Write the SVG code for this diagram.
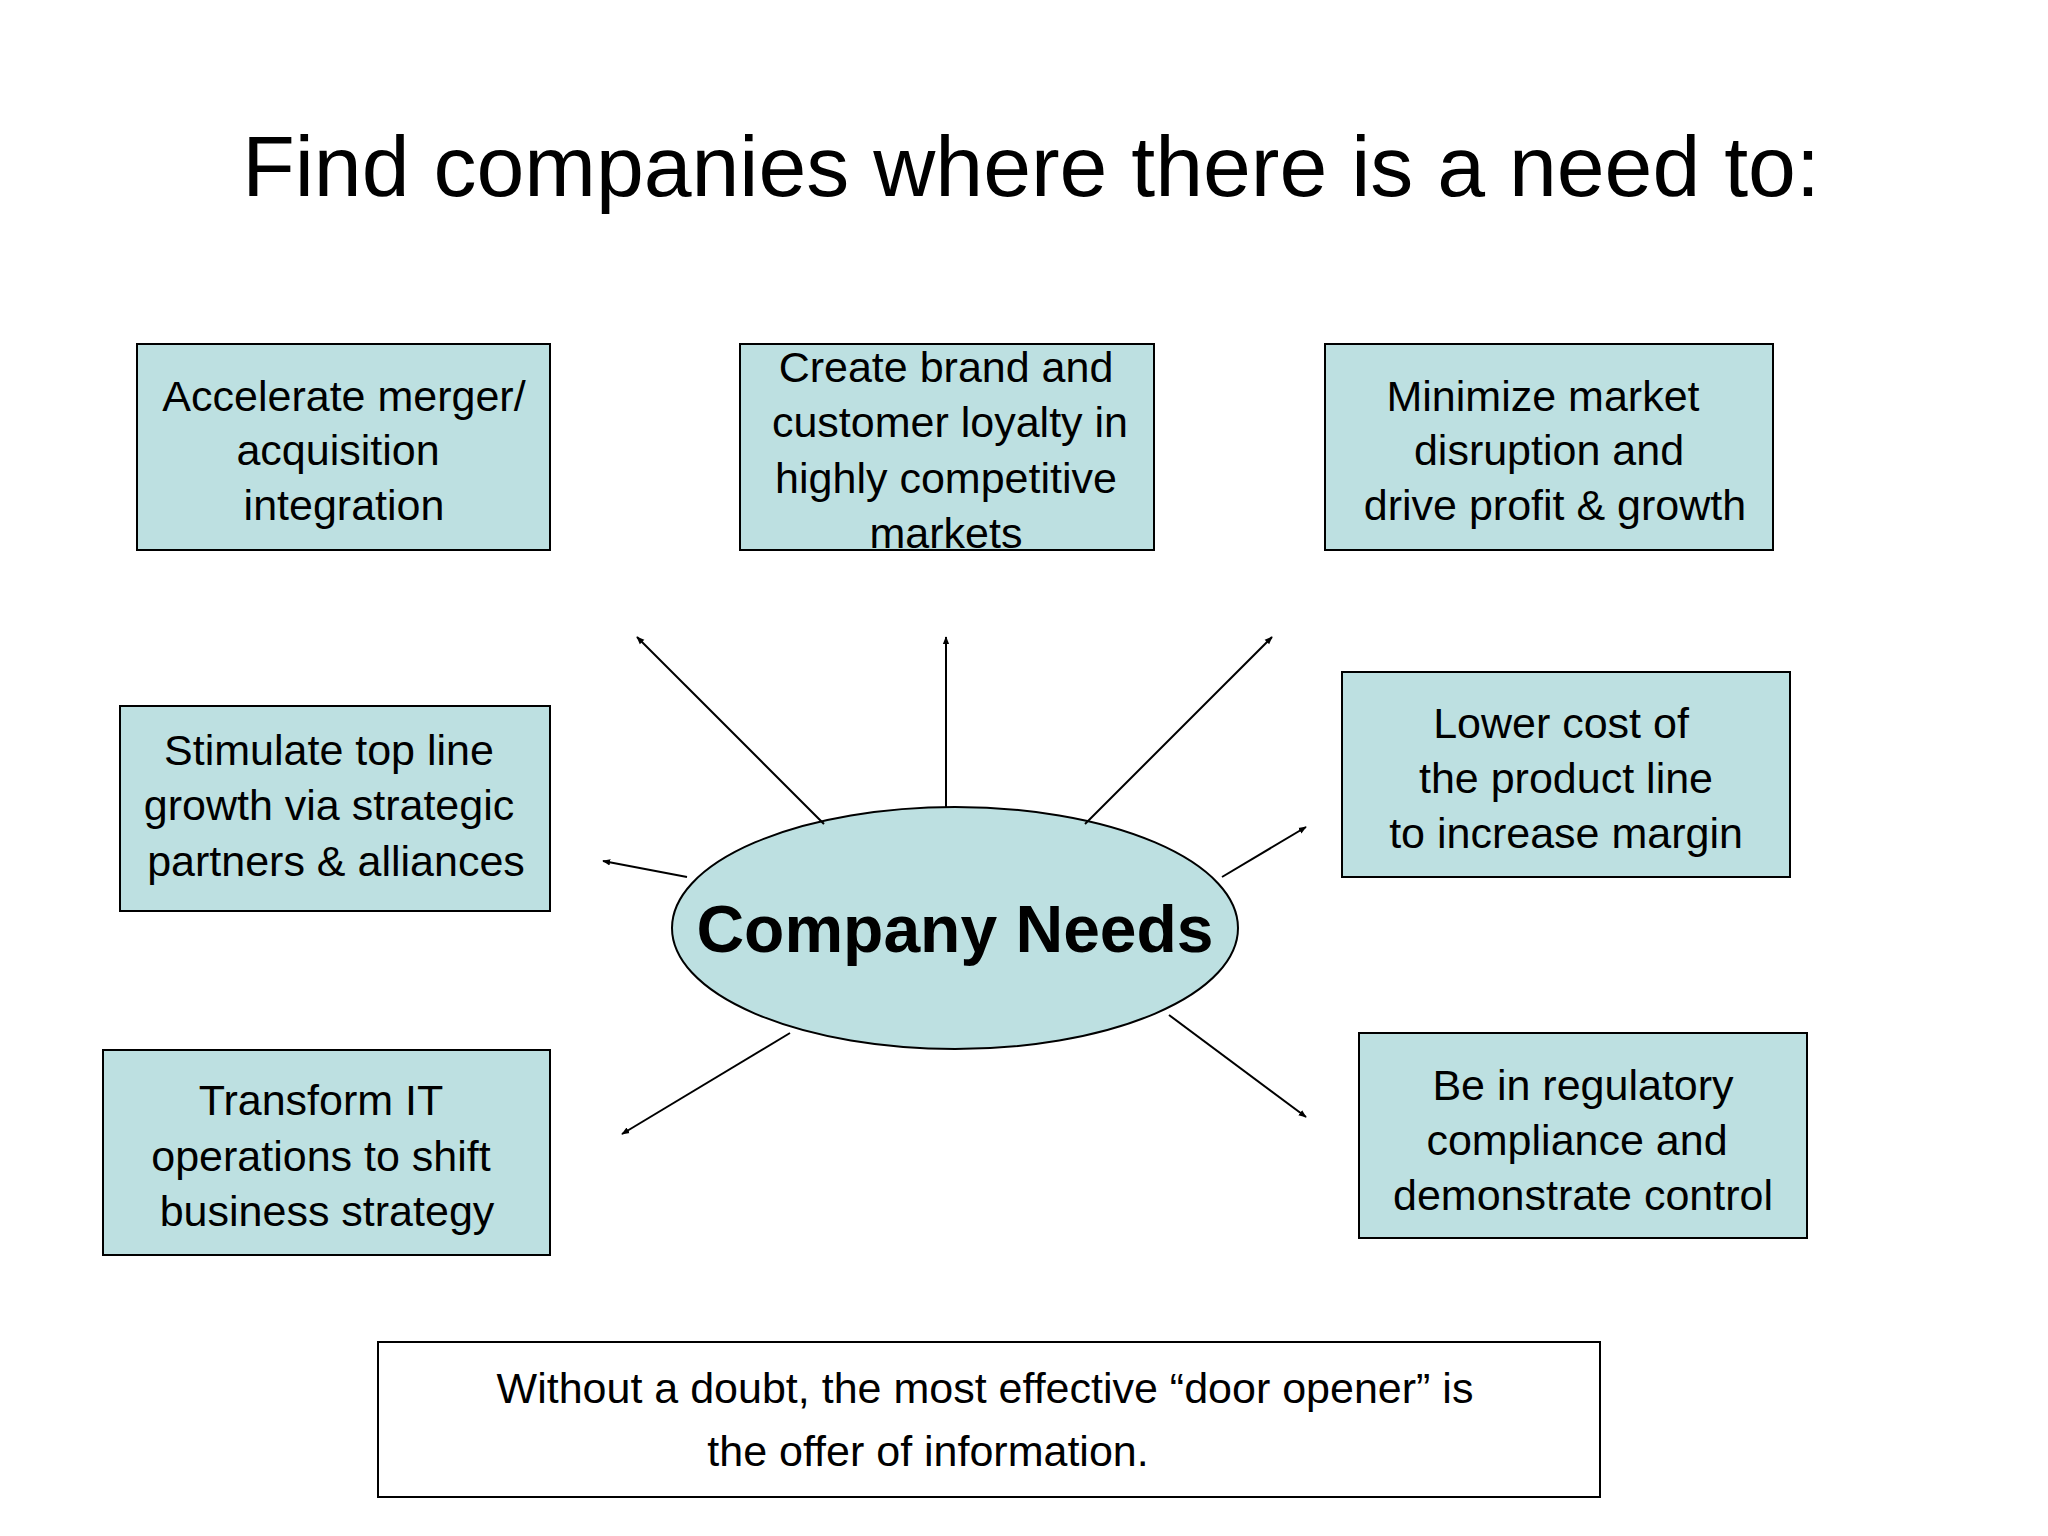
<svg xmlns="http://www.w3.org/2000/svg" width="2048" height="1536" viewBox="0 0 2048 1536">
<defs>
<style>
text{font-family:"Liberation Sans",Arial,sans-serif;fill:#000;text-anchor:middle}
.b{fill:#bde0e1;stroke:#000;stroke-width:2}
.t{font-size:43px}
.c line{stroke:#000;stroke-width:2;marker-end:url(#a)}
</style>
<marker id="a" viewBox="0 0 10 10" refX="9" refY="5" markerWidth="8" markerHeight="8" orient="auto" markerUnits="userSpaceOnUse"><path d="M0,1L10,5L0,9z" fill="#000"/></marker>
</defs>
<rect width="2048" height="1536" fill="#fff"/>
<text x="1031" y="196" font-size="86">Find companies where there is a need to:</text>
<g id="n1"><rect class="b" x="137" y="344" width="413" height="206"/><text class="t" x="344"><tspan x="344" y="411">Accelerate merger/</tspan><tspan x="338" y="465">acquisition</tspan><tspan x="344" y="520">integration</tspan></text></g>
<g id="n2"><rect class="b" x="740" y="344" width="414" height="206"/><text class="t"><tspan x="946" y="382">Create brand and</tspan><tspan x="950" y="437">customer loyalty in</tspan><tspan x="946" y="493">highly competitive</tspan><tspan x="946" y="548">markets</tspan></text></g>
<g id="n3"><rect class="b" x="1325" y="344" width="448" height="206"/><text class="t"><tspan x="1543" y="411">Minimize market</tspan><tspan x="1549" y="465">disruption and</tspan><tspan x="1555" y="520">drive profit &amp; growth</tspan></text></g>
<g id="n4"><rect class="b" x="120" y="706" width="430" height="205"/><text class="t"><tspan x="329" y="765">Stimulate top line</tspan><tspan x="329" y="820">growth via strategic</tspan><tspan x="336" y="876">partners &amp; alliances</tspan></text></g>
<g id="n5"><rect class="b" x="1342" y="672" width="448" height="205"/><text class="t"><tspan x="1561" y="738">Lower cost of</tspan><tspan x="1566" y="793">the product line</tspan><tspan x="1566" y="848">to increase margin</tspan></text></g>
<g id="n6"><rect class="b" x="103" y="1050" width="447" height="205"/><text class="t"><tspan x="321" y="1115">Transform IT</tspan><tspan x="321" y="1171">operations to shift</tspan><tspan x="327" y="1226">business strategy</tspan></text></g>
<g id="n7"><rect class="b" x="1359" y="1033" width="448" height="205"/><text class="t"><tspan x="1583" y="1100">Be in regulatory</tspan><tspan x="1577" y="1155">compliance and</tspan><tspan x="1583" y="1210">demonstrate control</tspan></text></g>
<g id="center"><ellipse class="b" cx="955" cy="928" rx="283" ry="121"/><text x="955" y="952" font-size="66" font-weight="bold">Company Needs</text></g>
<g id="note"><rect x="378" y="1342" width="1222" height="155" fill="#fff" stroke="#000" stroke-width="2"/><text class="t"><tspan x="985" y="1403">Without a doubt, the most effective “door opener” is</tspan><tspan x="928" y="1466">the offer of information.</tspan></text></g>
<g id="connectors" class="c">
<line x1="824" y1="824" x2="637" y2="637"/>
<line x1="946" y1="807" x2="946" y2="637"/>
<line x1="1085" y1="824" x2="1272" y2="637"/>
<line x1="687" y1="877" x2="603" y2="861"/>
<line x1="1222" y1="877" x2="1306" y2="827"/>
<line x1="790" y1="1033" x2="622" y2="1134"/>
<line x1="1169" y1="1015" x2="1306" y2="1117"/>
</g>
</svg>
